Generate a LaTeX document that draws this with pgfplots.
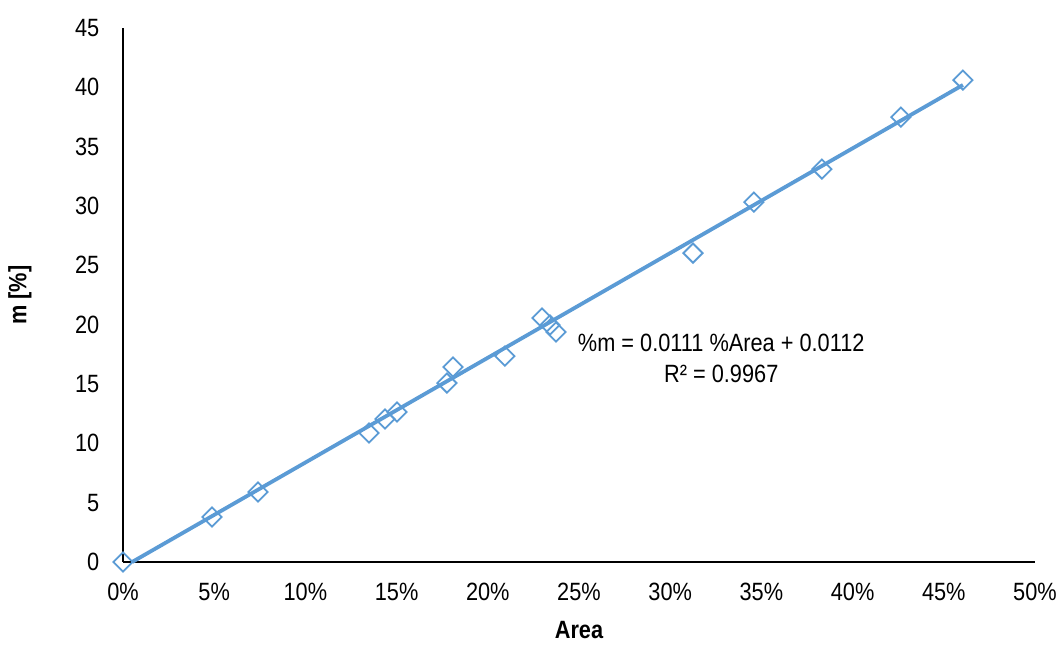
\documentclass[border=0pt]{standalone}
\usepackage{pgfplots}
\pgfplotsset{compat=1.18}
\usepackage{fontspec}
\setmainfont{Liberation Sans}[FakeStretch=0.87]
\definecolor{ptblue}{HTML}{5B9BD5}

\begin{document}
\fontsize{12.5pt}{15pt}\selectfont
\begin{tikzpicture}
\useasboundingbox (-61.5pt,-41pt) rectangle (468.5pt,281pt);
\begin{axis}[
  at={(0,0)}, anchor=south west,
  scale only axis,
  width=456pt, height=267pt,
  xmin=0, xmax=50, ymin=0, ymax=45,
  axis x line*=bottom, axis y line*=left,
  axis line style={black, line width=0.8pt},
  xtick={0,5,...,50}, ytick={0,5,...,45},
  major tick length=0pt,
  xticklabel={\pgfmathprintnumber{\tick}\%},
  /pgf/number format/assume math mode=true,
  xticklabel style={font=\fontsize{12.5pt}{15pt}\selectfont, yshift=-6pt},
  yticklabel style={font=\fontsize{12.5pt}{15pt}\selectfont, xshift=-7.5pt},
  xlabel={\bfseries Area},
  ylabel={\bfseries m [\%]},
  xlabel style={at={(axis description cs:0.5,-0.127)}, anchor=center, font=\fontsize{12.5pt}{15pt}\selectfont},
  ylabel style={at={(axis description cs:-0.113,0.5)}, anchor=center, rotate=0, font=\fontsize{12.5pt}{15pt}\selectfont},
  clip=false,
]
% measured samples
\addplot[only marks, mark=square, mark size=3.4pt,
  mark options={rotate=45, draw=ptblue, fill=white, line width=0.9pt}]
  coordinates {
  (0.0,0.0) (4.88,3.79) (7.40,5.90) (13.49,10.87) (14.36,12.05)
  (15.02,12.64) (17.76,15.08) (18.09,16.43) (20.94,17.35)
  (22.97,20.56) (23.41,19.97) (23.74,19.38) (31.25,26.03)
  (34.59,30.33) (38.32,33.11) (42.65,37.49) (46.05,40.61)
  };
% linear fit
\addplot[ptblue, line width=1.9pt, no marks] coordinates {(0.5,0) (46.05,40.2)};
\node[align=center, font=\fontsize{12.5pt}{15.5pt}\selectfont] at (axis cs:32.8,17.2)
  {\%m = 0.0111 \%Area + 0.0112\\R² = 0.9967};
\end{axis}
\end{tikzpicture}
\end{document}
